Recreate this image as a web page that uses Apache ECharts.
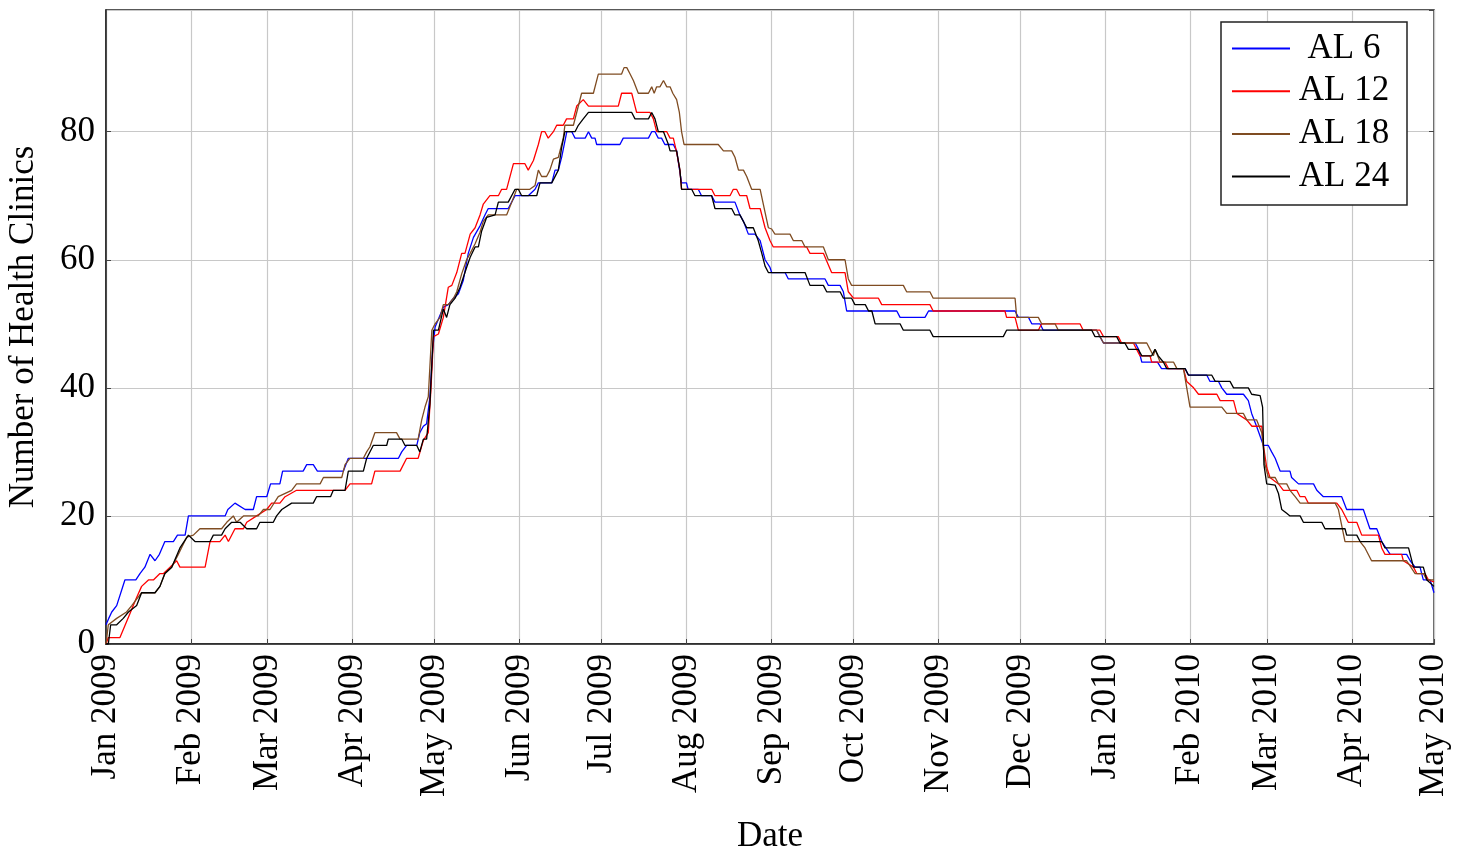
<!DOCTYPE html>
<html>
<head>
<meta charset="utf-8">
<script src="https://cdn.jsdelivr.net/npm/echarts@6/dist/echarts.min.js"></script>
<style>
html,body{margin:0;padding:0;background:#fff;}
#chart{width:1459px;height:849px;}
</style>
</head>
<body>
<div id="chart"></div>
<script>
// Data: [days since 1 Jan 2009, number of health clinics]
const seriesNames = ['AL 6', 'AL 12', 'AL 18', 'AL 24'];
const monthNames = ['Jan','Feb','Mar','Apr','May','Jun','Jul','Aug','Sep','Oct','Nov','Dec'];
const xAxisTitle = 'Date';
const yAxisTitle = 'Number of Health Clinics';

const al6 = [[0,3],[1,4],[2.1,5],[3.9,6],[6.9,10],[10.9,10],[12.4,11],[14.2,12],[16.1,14],[17.9,13],[19.5,14],[21.5,16],[24.6,16],[26.1,17],[28.9,17],[30.1,20],[43.5,20],[44.5,21],[47.1,22],[50.8,21],[53.8,21],[55,23],[58.7,23],[60.1,25],[63.5,25],[64.5,27],[72,27],[73.3,28],[75.7,28],[77.2,27],[86.7,27],[88.5,29],[106.8,29],[108,30],[109.8,31],[113.5,31],[114.6,33],[115.9,34],[117.1,34.4],[118.3,38.6],[119.3,46],[120.2,49.5],[123.2,52.6],[125,53],[126.9,54],[128.7,54.7],[130.5,56.8],[132.3,61],[134.2,63.5],[136.6,65.3],[138.4,67],[139.6,68],[146.9,68],[149.4,70],[154.2,70],[156.7,71],[157.9,72],[162.8,72],[164,74],[165.2,74],[166.4,76],[168.3,80],[170.1,80],[171.3,79],[175,79],[176.2,80],[177.4,79],[178.6,79],[179.2,78],[187.7,78],[188.9,79],[198.1,79],[199.3,80],[200.5,80],[201.7,79],[202.9,79],[204.1,78],[207.2,78],[208.4,77],[210.2,72],[212,72],[212.6,71],[216.3,71],[217.5,70],[221.2,70],[222.4,69],[229.7,69],[231.5,67],[232.8,66],[234.6,64],[237,64],[238.9,63],[240.7,60],[242.5,58.8],[243.1,58],[248,58],[249.2,57],[262.6,57],[263.8,56],[268.1,56],[269.3,55],[270.5,52],[288.8,52],[290,51],[299.1,51],[300.4,52],[332,52],[333.2,51],[336.9,51],[338.1,50],[341.1,50],[342.3,49],[361.8,49],[363,48],[364.3,47],[375.9,47],[377.1,46],[378.3,44],[384,44],[385.5,43],[394.1,43],[395.3,42],[402,42],[403.2,41],[406.3,41],[407.5,40],[409.3,39],[415.4,39],[417.2,38],[418.4,36],[420.2,34],[422.7,31],[424.5,31],[425.7,30],[427,29],[428.8,27],[432.4,27],[433,26],[435.5,25],[441,25],[442.2,24],[444.6,23],[451.3,23],[453.1,21],[459.2,21],[461.6,18],[464.1,18],[465.9,16],[469,14],[475,14],[476.3,13],[478.1,12],[479.9,12],[481.1,10],[483.6,10],[485,8]];

const al12 = [[0,0],[0.85,1],[5.1,1],[8.8,4.8],[10.9,7],[13,9],[15.5,10],[17.3,10],[19.7,11],[21,11],[23.4,12],[25.8,13],[27,12],[36.2,12],[38,16],[41.6,16],[43.5,17],[44.7,16],[47.1,18],[50.2,18],[51.4,19],[55,20],[58.7,21],[60.5,22],[63.5,22],[65.4,23],[69.6,24],[87.3,24],[89.1,25],[97,25],[98.2,27],[107.4,27],[109.8,29],[114,29],[115.9,31.8],[117.7,33],[118.7,40],[119.6,48],[121.4,48.4],[123.2,51],[125,55.7],[126.3,56],[128.1,58],[129.9,61],[131.1,61],[133,64],[134.8,65],[136.6,67],[137.8,68.7],[140.2,70],[143.3,70],[144.5,71],[146.3,71],[148.8,75],[153,75],[154.2,74],[156.1,75.5],[157.9,78],[159.1,80],[160.3,80],[161.5,79],[163.4,80],[164.6,81],[167,81],[168.2,82],[170.7,82],[171.9,84],[174.3,85],[176.2,84],[187.1,84],[188.3,86],[192,86],[193.2,84],[193.8,83],[198.7,83],[199.9,82],[201.1,80],[204.8,80],[206,79],[207.2,79],[208.4,76.8],[209.6,74],[210.2,71],[221.2,71],[222.4,70],[227.9,70],[229.1,71],[230.3,71],[231.5,70],[234,70],[235.2,68],[238.9,68],[240.7,65],[242.5,63],[243.7,62],[255.9,62],[257.1,61],[262,61],[265,58],[269.9,58],[271.1,55],[273,54],[282.1,54],[283.3,53],[300.9,53],[302.1,52],[328.3,52],[328.9,51],[332,51],[333.2,49],[340.5,49],[341.7,50],[355.7,50],[356.9,49],[363,49],[364.3,48],[369.7,48],[370.9,47],[375.2,47],[376.4,46],[377.6,45],[381.3,45],[381.9,44],[386.8,44],[388,43],[393.5,43],[394.7,41],[397.2,40],[399,39],[405.7,39],[406.9,38],[411.8,38],[413,36],[416.6,35],[418.5,34],[422.1,34],[422.7,31],[423.9,27.6],[425.1,26],[428.2,25],[430,24],[434.9,24],[436.1,23],[437.9,23],[439.1,22],[449.5,22],[451.3,21],[453.7,19],[456.8,19],[458.6,17],[464.7,17],[465.9,15],[467.1,14],[473.2,14],[473.8,13],[477.5,12],[478.7,11],[481.7,11],[483,10],[485,9.7]];

const al18 = [[0,0],[0.85,3],[3.9,4],[7.5,5],[9.4,6],[11.2,7],[13,8],[17.9,8],[19.7,9],[21.5,11],[24,12],[26.4,14],[29.5,16.7],[31.9,17],[34.3,18],[42.2,18],[44.1,19],[46.5,20],[47.7,19],[50.2,20],[55.6,20],[57.5,21],[59.9,21],[62.9,23],[67.8,24],[69.6,25],[78.2,25],[79.4,26],[86.1,26],[87.3,28],[89.1,29],[94,29],[95.2,30],[96.4,30.8],[98.2,33],[106.1,33],[107.4,32],[114,32],[115.3,35],[116.5,37],[117.7,38.6],[119,49],[120.2,50],[122,51],[123.2,53],[125,53],[126.9,54],[128.1,55],[129.9,57.8],[131.7,60],[133,61],[134.8,62.5],[136.6,64.3],[137.8,66],[139.6,67],[146.3,67],[148.2,69],[150,71],[154.8,71],[156.7,71.6],[157.9,74],[159.1,73],[160.9,73],[162.1,74],[163.4,75.7],[165.2,76],[165.8,77],[167,79],[167.6,81],[170.7,81],[171.9,83],[173.7,86],[178,86],[179.8,89],[188.3,89],[189.2,90],[190.2,90],[191.4,89],[192.6,88],[194.4,86],[198.1,86],[199.3,87],[200.2,86],[201.1,87],[202.3,87],[203.6,88],[204.8,87],[206,87],[207,86],[208.4,85],[209.4,83],[210.2,80],[211.1,78],[223.6,78],[225.5,77],[228.5,77],[229.7,76],[231,74],[232.8,74],[234,73],[235.8,71],[238.9,71],[240.7,67.4],[241.9,65],[243.1,64.8],[244.3,64],[249.8,64],[251,63],[254.1,63],[255.3,62],[262,62],[263.8,60],[269.9,60],[271.1,57],[272.3,56],[291.2,56],[292.4,55],[300.9,55],[302.1,54],[332,54],[332.6,51],[340.5,51],[341.7,50],[346.6,50],[347.8,49],[361.8,49],[363,48],[364.3,47],[380.1,47],[381.3,46],[382.5,45],[383.2,46],[385,44],[389.9,44],[391.1,43],[393.5,43],[394.7,40],[395.9,37],[407.5,37],[409.3,36],[415.4,36],[416.6,35],[420.2,35],[422.1,33],[423.3,28],[424.5,26],[427,26],[428.2,25],[431.2,25],[432.4,24],[434.3,23],[436.1,22],[448.9,22],[450.1,21],[452.5,16],[458,16],[459.8,15],[462.2,13],[475,13],[478.1,11],[481.1,11],[482.4,10],[485,10]];

const al24 = [[0,0],[0.85,0],[1.7,3],[3.9,3],[6.3,4],[8.2,5],[11.2,6],[13,8],[17.9,8],[19.7,9],[21.5,11],[24,12],[27,15],[30.1,17],[32.5,16],[38,16],[39.2,17],[42.2,17],[43.5,18],[45.9,19],[49,19],[51.4,18],[55,18],[56.2,19],[61.1,19],[62.3,20],[64.2,21],[67.8,22],[75.7,22],[76.9,23],[82,23],[83,24],[87.3,24],[88.5,27],[94,27],[95.2,29],[97.6,31],[102.5,31],[103.1,32],[108,32],[109.2,31],[113.5,31],[114.6,30],[115.9,32],[117.1,32],[118.3,37.5],[119.6,49],[121.4,49],[123.2,52.3],[124.4,51],[125.6,53],[127.5,54],[129.3,55.7],[131.7,58.8],[133,60.4],[134.8,62],[136,62],[137.2,64.5],[139,66.6],[142.1,67],[143.3,69],[146.9,69],[149.4,71],[150.6,71],[151.8,70],[157.3,70],[158.5,72],[162.8,72],[165.2,74],[166.4,77.5],[167.6,80],[171.3,80],[172.5,81],[174.3,82],[176.2,83],[192,83],[193.2,82],[198.1,82],[199.3,83],[200.5,82],[201.7,80],[203.6,80],[205.4,78],[206,77],[208.4,77],[209.6,74],[210.2,71],[213.9,71],[215.1,70],[221.2,70],[222.4,68],[228.5,68],[229.7,67],[231.5,67],[234,65],[236.4,65],[238.2,63],[239.5,61],[240.7,59],[241.9,58],[255.3,58],[257.1,56],[262,56],[263.2,55],[268.1,55],[269.3,54],[272.3,54],[273.5,53],[277.3,53],[278.5,52],[279.7,52],[280.9,50],[290,50],[291.2,49],[300.9,49],[302.1,48],[327.7,48],[328.9,49],[360,49],[361.2,48],[369.1,48],[370.3,47],[372.1,47],[373.4,46],[377,46],[378.3,45],[381.9,45],[383.1,46],[384.3,45],[386.2,44],[387.4,43],[394.1,43],[395.3,42],[403.8,42],[405.1,41],[410.5,41],[411.8,40],[417.2,40],[418.4,39],[421.5,38.8],[422.4,37],[422.9,28],[423.9,25],[427,24.8],[428.2,23.5],[429.4,21],[431.2,20.4],[432.4,20],[436.1,20],[437.3,19],[444,19],[445.2,18],[452.5,18],[453.1,17],[456.8,17],[458,16],[465.9,16],[467.1,15],[475.7,15],[477.5,12],[481.1,12],[482.4,10],[485,9]];

const seriesData = [al6, al12, al18, al24];
const seriesColors = ['#0000ff', '#ff0000', '#7f4c22', '#000000'];

const DAY = 86400000;
const BASE = new Date(2009, 0, 1).getTime();
const X_MAX = new Date(2010, 4, 1).getTime();
const FONT = 'Liberation Serif, Times New Roman, serif';

function toTime(arr) { return arr.map(p => [BASE + p[0] * DAY, p[1]]); }

const chart = echarts.init(document.getElementById('chart'), null, {renderer: 'canvas'});

const axisText = {fontFamily: FONT, fontSize: 35, color: '#000'};

const option = {
  animation: false,
  backgroundColor: '#fff',
  grid: {left: 106, right: 25, top: 10, bottom: 205, outerBoundsMode: 'none', containLabel: false,
    show: true, borderColor: '#222', borderWidth: 1.5, backgroundColor: 'transparent'},
  legend: {
    orient: 'vertical', right: 52, top: 22,
    backgroundColor: '#fff', borderColor: '#222', borderWidth: 1.5,
    padding: [9, 14, 11, 11], itemGap: 7.7,
    itemWidth: 58, itemHeight: 2, icon: 'rect',
    data: seriesNames,
    formatter: n => '{c|' + n + '}',
    textStyle: {fontFamily: FONT, fontSize: 35, color: '#000', lineHeight: 35,
      rich: {c: {width: 98, align: 'center', fontFamily: FONT, fontSize: 35, lineHeight: 35, color: '#000'}}}
  },
  xAxis: [{
    type: 'time', min: BASE, max: X_MAX,
    minInterval: 28 * DAY, maxInterval: 31 * DAY,
    name: xAxisTitle, nameLocation: 'middle', nameGap: 175,
    nameTextStyle: axisText,
    axisLine: {onZero: false, lineStyle: {color: '#222', width: 1.5}},
    axisTick: {inside: true, length: 5, lineStyle: {color: '#444'}},
    axisLabel: Object.assign({rotate: 90, margin: 10, hideOverlap: false, showMinLabel: true, showMaxLabel: true,
      formatter: v => { const d = new Date(v); return monthNames[d.getMonth()] + ' ' + d.getFullYear(); }}, axisText),
    splitLine: {show: true, lineStyle: {color: '#c8c8c8', width: 1.2}}
  }],
  yAxis: [{
    type: 'value', min: 0, max: 99, interval: 20,
    name: yAxisTitle, nameLocation: 'middle', nameGap: 65, nameRotate: 90,
    nameTextStyle: axisText,
    axisLine: {show: true, lineStyle: {color: '#222', width: 1.5}},
    axisTick: {show: true, inside: true, length: 5, lineStyle: {color: '#444'}},
    axisLabel: Object.assign({margin: 11, showMaxLabel: false}, axisText),
    splitLine: {show: true, lineStyle: {color: '#c8c8c8', width: 1.2}}
  }, {
    type: 'value', min: 0, max: 99, interval: 20, position: 'right',
    axisLine: {show: false}, axisLabel: {show: false}, splitLine: {show: false},
    axisTick: {show: true, inside: true, length: 5, lineStyle: {color: '#444'}}
  }],
  series: seriesNames.map((name, i) => ({
    name: name, type: 'line', xAxisIndex: 0, yAxisIndex: 0,
    data: toTime(seriesData[i]),
    showSymbol: false, symbol: 'none',
    lineStyle: {color: seriesColors[i], width: 1.3},
    itemStyle: {color: seriesColors[i]},
    z: 2 + i
  }))
};

chart.setOption(option);
</script>
</body>
</html>
